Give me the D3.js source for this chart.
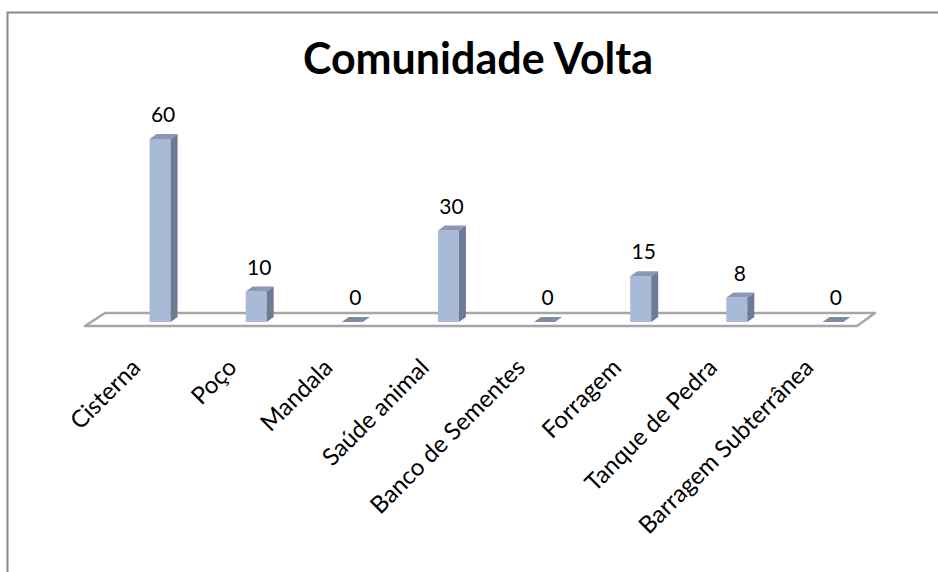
<!DOCTYPE html>
<html>
<head>
<meta charset="utf-8">
<script src="https://cdn.jsdelivr.net/npm/d3@7"></script>
<style>
  body { margin: 0; background: #fff; }
  text { font-family: Lato, "Open Sans", sans-serif; fill: #000; }
</style>
</head>
<body>
<div id="chart"></div>
<script>
var categories = ["Cisterna", "Poço", "Mandala", "Saúde animal", "Banco de Sementes", "Forragem", "Tanque de Pedra", "Barragem Subterrânea"];
var values = [60, 10, 0, 30, 0, 15, 8, 0];
var title = "Comunidade Volta";

var svgWidth = 938, svgHeight = 572;
var svg = d3.select("#chart").append("svg").attr("width", svgWidth).attr("height", svgHeight);

// chart border (runs off right and bottom)
svg.append("path")
  .attr("d", "M7.5,572 L7.5,12.5 L938,12.5")
  .attr("fill", "none").attr("stroke", "#8a8a8a").attr("stroke-width", 2);

// scales
var x = d3.scaleBand().domain(categories).range([112, 881]).padding(0);
var y = d3.scaleLinear().domain([0, 60]).range([322, 139]);

var barW = 21, dx = 7, dy = -5;

// floor
svg.append("path")
  .attr("d", "M85,326 L857,326 L875,313 L105,313 Z")
  .attr("fill", "none").attr("stroke", "#a6a6a6").attr("stroke-width", 2.5)
  .attr("stroke-linejoin", "round");

var bars = svg.selectAll(".bar").data(values).enter().append("g").attr("class", "bar");

bars.each(function(d, i) {
  var g = d3.select(this);
  var c = x(categories[i]) + x.bandwidth() / 2;
  var x0 = c - barW / 2, x1 = c + barW / 2;
  var yb = y(0), yt = y(d);
  if (d === 0) {
    // flat bar for zero values
    g.append("path").attr("fill", "#7d8ca8")
      .attr("d", `M${x0},${yb} L${x1},${yb} L${x1 + dx},${yb + dy} L${x0 + dx},${yb + dy} Z`);
  } else {
    // front
    g.append("rect").attr("x", x0).attr("y", yt).attr("width", barW).attr("height", yb - yt)
      .attr("fill", "#a9b9d8");
    // side
    g.append("path").attr("d", `M${x1},${yt} L${x1 + dx},${yt + dy} L${x1 + dx},${yb + dy} L${x1},${yb} Z`)
      .attr("fill", "#6d7b94");
    // top
    g.append("path").attr("d", `M${x0},${yt} L${x1},${yt} L${x1 + dx},${yt + dy} L${x0 + dx},${yt + dy} Z`)
      .attr("fill", "#8898b5");
  }
  // value label
  g.append("text").attr("x", c + 3).attr("y", yt - 17)
    .attr("text-anchor", "middle").style("font-size", "21px").text(d);
});

// category labels
svg.selectAll(".cat").data(categories).enter().append("text").attr("class", "cat")
  .attr("text-anchor", "end")
  .attr("transform", d => `translate(${x(d) + x.bandwidth() / 2 - 18},369) rotate(-45)`)
  .style("font-size", "24px")
  .text(d => d);

// title
svg.append("text").attr("x", 478).attr("y", 74).attr("text-anchor", "middle")
  .style("font-size", "43px").style("font-weight", "bold").text(title);
</script>
</body>
</html>
